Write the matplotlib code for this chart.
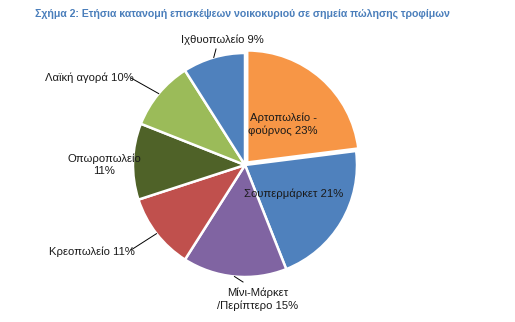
import matplotlib
matplotlib.use("Agg")
import matplotlib.pyplot as plt
import numpy as np

plt.rcParams['font.family'] = ['Liberation Sans', 'DejaVu Sans']

# Data
categories = ['Αρτοπωλείο -\nφούρνος', 'Σουπερμάρκετ', 'Μίνι-Μάρκετ\n/Περίπτερο',
              'Κρεοπωλείο', 'Οπωροπωλείο\n', 'Λαϊκή αγορά', 'Ιχθυοπωλείο']
shares = [23, 21, 15, 11, 11, 10, 9]
colors = ['#F79646', '#4F81BD', '#8064A2', '#C0504D', '#4F6228', '#9BBB59', '#4F81BD']
title = 'Σχήμα 2: Ετήσια κατανομή επισκέψεων νοικοκυριού σε σημεία πώλησης τροφίμων'

W, H = 515, 322
cx, cy, R = 245, 165, 112  # pie centre and radius in pixels

fig = plt.figure(figsize=(W / 100, H / 100), dpi=100)
ax = fig.add_axes([0, 0, 1, 1])
ax.axis('off')


def px(x, y):
    # pixel position -> data units
    return (x - cx) / R, (cy - y) / R


wedges, _ = ax.pie(shares, colors=colors, startangle=90, counterclock=False,
                   explode=[0.03, 0, 0, 0, 0, 0, 0], radius=1.0,
                   wedgeprops=dict(edgecolor='white', linewidth=1.8))

# pie() resets the limits, so fix them afterwards
ax.set_xlim(-cx / R, (W - cx) / R)
ax.set_ylim(-(H - cy) / R, cy / R)
ax.set_aspect('equal')

labels = [f'{c}{"" if c.endswith(chr(10)) else " "}{v}%' for c, v in zip(categories, shares)]

# label centre (pixels)
label_pos = [(283, 124), (294, 194), (258, 299), (92, 252), (104, 165), (89, 78), (222, 40)]
# end of leader line near the label (pixels), None = no leader
line_end = [None, None, (243, 282), (131, 250), None, (131, 78), (216, 49)]

for w, lab, lp, le in zip(wedges, labels, label_pos, line_end):
    ax.text(*px(*lp), lab, ha='center', va='center', fontsize=8.1,
            color='#1a1a1a', linespacing=1.3)
    if le is not None:
        mid = np.deg2rad((w.theta1 + w.theta2) / 2)
        ex, ey = px(*le)
        ax.plot([np.cos(mid), ex], [np.sin(mid), ey], color='black', lw=0.7)

fig.text(35 / W, 1 - 14 / H, title, ha='left', va='center', fontsize=7.6,
         fontweight='bold', color='#4A7EBB')

fig.savefig('out.png', dpi=100)
